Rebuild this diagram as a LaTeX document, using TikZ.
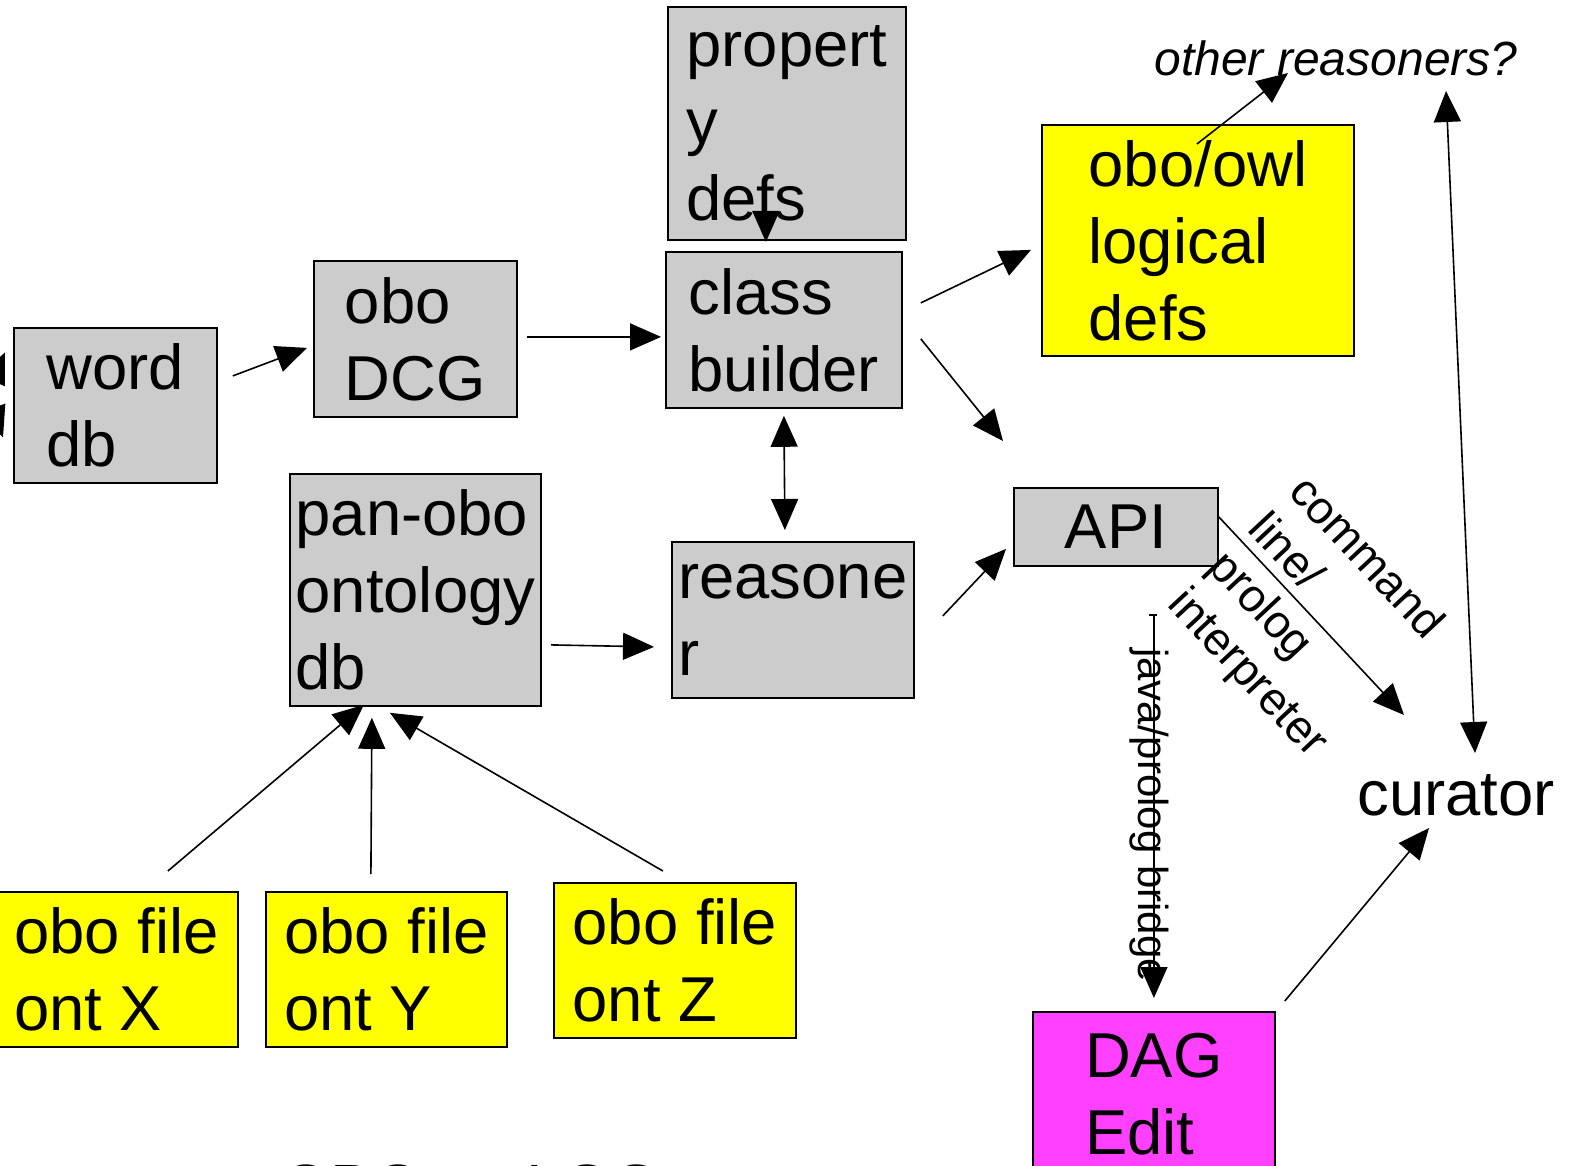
\documentclass[tikz,border=0pt]{standalone}
\usepackage{fontspec}
\setmainfont{Liberation Sans}
\usetikzlibrary{arrows.meta}
\definecolor{boxgray}{RGB}{204,204,204}
\definecolor{oboyellow}{RGB}{255,255,0}
\definecolor{dagpink}{RGB}{255,64,255}
\begin{document}
\begin{tikzpicture}[x=1pt, y=-1pt,
    box/.style={draw, line width=1.8pt, fill=boxgray, anchor=north west, inner sep=0pt,
      align=left, font=\fontsize{63.4}{77}\selectfont},
    arr/.style={-{Triangle[length=31pt,width=27pt]}, line width=1.6pt},
    dblarr/.style={{Triangle[length=31pt,width=27pt]}-{Triangle[length=31pt,width=27pt]}, line width=1.6pt},
    lbl/.style={inner sep=0pt, align=left}]
  \useasboundingbox (0,0) rectangle (1578,1166);
  % pipeline boxes
  \node[box, minimum width=203pt, minimum height=155pt] (worddb) at (13,327) {word\\db};
  \node[box, minimum width=203pt, minimum height=156pt] (obodcg) at (313,260) {obo\\DCG};
  \node[box, minimum width=238pt, minimum height=233pt] (propdefs) at (667,6) {propert\\y\\defs};
  \node[box, minimum width=236pt, minimum height=156pt] (classb) at (665,251) {class\\builder};
  \node[box, fill=oboyellow, minimum width=312pt, minimum height=231pt] (logdefs) at (1041,124) {obo/owl\\logical\\defs};
  \node[box, minimum width=204pt, minimum height=78pt] (api) at (1013,487) {API};
  \node[box, minimum width=251pt, minimum height=232pt] (panobo) at (289,473) {pan-obo\\ontology\\db};
  \node[box, minimum width=242pt, minimum height=156pt] (reasoner) at (671,541) {reasone\\r};
  % source files
  \node[box, fill=oboyellow, minimum width=243pt, minimum height=155pt] (fileX) at (-6,891) {obo file\\ont X};
  \node[box, fill=oboyellow, minimum width=241pt, minimum height=155pt] (fileY) at (265,891) {obo file\\ont Y};
  \node[box, fill=oboyellow, minimum width=242pt, minimum height=155pt] (fileZ) at (553,882) {obo file\\ont Z};
  \node[box, fill=dagpink, minimum width=242pt, minimum height=165pt] (dagedit) at (1032,1011) {DAG\\Edit};
  % free text
  \node[lbl, font=\fontsize{63.4}{77}\selectfont] (curator) at (1456,795) {curator};
  \node[lbl, font=\fontsize{48}{58}\selectfont\itshape] (otherr) at (1336,58) {other reasoners?};
  \node[lbl, font=\fontsize{46}{55}\selectfont, rotate=-47] (cmdlbl) at (1307,618) {command\\line/\\prolog\\interpreter};
  \node[lbl, font=\fontsize{42}{50}\selectfont, rotate=-90] (javalbl) at (1149,815) {java/prolog bridge};
  \node[lbl, font=\fontsize{64}{76}\selectfont, anchor=base west] (title) at (281,1209) {OBO as LOG};
  % stubs coming in from the left
  \coordinate (ext1) at (-25,420);
  \coordinate (ext2) at (-25,360);
  \draw[arr] (ext1) -- ([shift={(-8,-53)}]worddb.west);
  \draw[arr] (ext2) -- ([shift={(-10,32)}]worddb.west);
  % connectors
  \draw[arr] ([shift={(15,-29.5)}]worddb.east) -- ([shift={(-6,9)}]obodcg.west);
  \draw[arr] ([shift={(9,-2)}]obodcg.east) -- ([shift={(-4,7)}]classb.west);
  \draw[arr] ([shift={(-21,-39)}]propdefs.south) -- ([shift={(-18,-9)}]classb.north);
  \draw[arr] ([shift={(18,-27)}]classb.east) -- ([shift={(-10,9.5)}]logdefs.west);
  \draw[arr] ([shift={(18,9)}]classb.east) -- ([shift={(-10,-46)}]api.north west);
  \draw[dblarr] ([shift={(0,7)}]classb.south) -- ([shift={(-8,-11)}]reasoner.north);
  \draw[arr] ([shift={(9,55)}]panobo.east) -- ([shift={(-17,27)}]reasoner.west);
  \draw[arr] ([shift={(28,-4)}]reasoner.east) -- ([shift={(-7,22)}]api.west);
  \draw[arr] ([shift={(0,-10)}]api.east) -- ([shift={(-52,-80)}]curator.center);
  \draw[arr] ([shift={(-1,20)}]logdefs.north) -- ([shift={(-48,15)}]otherr.center);
  \draw[dblarr] ([shift={(110,33)}]otherr.center) -- ([shift={(19,-42)}]curator.center);
  \draw[arr] ([shift={(9,-10)}]dagedit.north east) -- ([shift={(-27,33)}]curator.center);
  \draw[arr] ([shift={(38,48)}]api.south) -- ([shift={(0,-13)}]dagedit.north);
  \draw[line width=1.6pt] ([shift={(33,48)}]api.south) -- ([shift={(41,48)}]api.south);
  \draw[arr] ([shift={(51.5,-20)}]fileX.north) -- ([shift={(-51.5,-2)}]panobo.south);
  \draw[arr] ([shift={(-15.5,-17)}]fileY.north) -- ([shift={(-43.5,11)}]panobo.south);
  \draw[arr] ([shift={(-12,-11)}]fileZ.north) -- ([shift={(-25.5,6)}]panobo.south);
\end{tikzpicture}
\end{document}
